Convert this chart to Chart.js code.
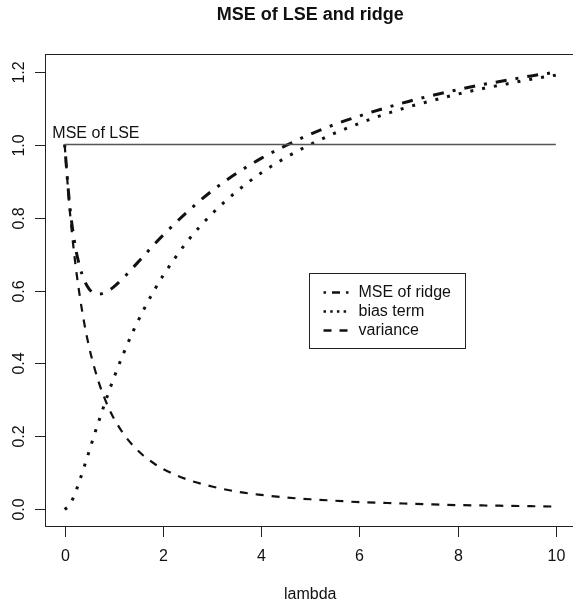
<!DOCTYPE html>
<html lang="en">
<head>
<meta charset="UTF-8">
<title>MSE of LSE and ridge</title>
<script src="https://cdn.jsdelivr.net/npm/chart.js"></script>
<style>
    body { margin: 0; background: #fff; }
    canvas { display: block; }
</style>
</head>
<body>
<canvas id="grafico" width="573" height="603"></canvas>
<script>
    // valores
    const lambdas  = [0, 0.1, 0.2, 0.3, 0.4, 0.5, 0.6, 0.7, 0.8, 0.9, 1.0, 1.2, 1.4, 1.6, 1.8, 2.0, 2.5, 3.0, 3.5, 4.0, 4.5, 5.0, 5.5, 6.0, 6.5, 7.0, 7.5, 8.0, 8.5, 9.0, 9.5, 10];
    const mseRidge = [1.000, 0.838, 0.734, 0.669, 0.628, 0.604, 0.593, 0.590, 0.593, 0.600, 0.610, 0.635, 0.664, 0.693, 0.723, 0.751, 0.816, 0.873, 0.921, 0.962, 0.997, 1.028, 1.055, 1.078, 1.099, 1.118, 1.135, 1.150, 1.164, 1.176, 1.188, 1.198];
    const biasTerm = [0.000, 0.012, 0.040, 0.077, 0.118, 0.160, 0.203, 0.244, 0.284, 0.323, 0.360, 0.428, 0.490, 0.545, 0.595, 0.640, 0.735, 0.810, 0.871, 0.922, 0.964, 1.000, 1.031, 1.058, 1.082, 1.103, 1.121, 1.138, 1.153, 1.166, 1.179, 1.190];
    const variance = [1.000, 0.826, 0.694, 0.592, 0.510, 0.444, 0.391, 0.346, 0.309, 0.277, 0.250, 0.207, 0.174, 0.148, 0.128, 0.111, 0.082, 0.063, 0.049, 0.040, 0.033, 0.028, 0.024, 0.020, 0.018, 0.016, 0.014, 0.012, 0.011, 0.010, 0.009, 0.008];
    const mseLse = 1.0;
    const lseRange = [0, 10];

    const xTicks = [0, 2, 4, 6, 8, 10];
    const yTicks = [0, 0.2, 0.4, 0.6, 0.8, 1.0, 1.2];
    const yTickLabels = ['0.0', '0.2', '0.4', '0.6', '0.8', '1.0', '1.2'];

    const titulo = 'MSE of LSE and ridge';
    const xTitulo = 'lambda';
    const rotuloLse = 'MSE of LSE';
    const legendas = ['MSE of ridge', 'bias term', 'variance'];

    const fonte = "'Liberation Sans', Arial, Helvetica, sans-serif";
    const corTexto = '#111';

    function pontos(ys) {
        return lambdas.map((l, i) => ({ x: l, y: ys[i] }));
    }

    // estilos das linhas (curva e amostra da legenda)
    const estilos = [
        { width: 3, dash: [3, 9, 11, 9], legDash: [2.5, 6, 8, 6] },
        { width: 3, dash: [3, 9], legDash: [2.5, 4.2] },
        { width: 2.2, dash: [8, 8], legDash: [8, 8] }
    ];

    // desenha caixa, eixos, textos e legenda no estilo do R
    const estiloR = {
        id: 'estiloR',
        afterDraw(chart) {
            const { ctx, chartArea: a, scales: { x, y } } = chart;
            ctx.save();
            ctx.strokeStyle = '#222';
            ctx.lineWidth = 1;
            ctx.strokeRect(a.left + 0.5, a.top + 0.5, a.right - a.left + 10, a.bottom - a.top - 1);

            ctx.fillStyle = corTexto;
            ctx.font = '16px ' + fonte;

            // eixo x
            ctx.textAlign = 'center';
            ctx.textBaseline = 'alphabetic';
            xTicks.forEach(v => {
                const px = Math.round(x.getPixelForValue(v)) + 0.5;
                ctx.beginPath();
                ctx.moveTo(px, a.bottom);
                ctx.lineTo(px, a.bottom + 10);
                ctx.stroke();
                ctx.fillText(String(v), px, a.bottom + 34);
            });

            // eixo y
            yTicks.forEach((v, i) => {
                const py = Math.round(y.getPixelForValue(v)) + 0.5;
                ctx.beginPath();
                ctx.moveTo(a.left - 10, py);
                ctx.lineTo(a.left, py);
                ctx.stroke();
                ctx.save();
                ctx.translate(a.left - 21, py);
                ctx.rotate(-Math.PI / 2);
                ctx.fillText(yTickLabels[i], 0, 0);
                ctx.restore();
            });

            // titulos
            const centro = x.getPixelForValue(5);
            ctx.fillText(xTitulo, centro, 599);
            ctx.font = 'bold 18px ' + fonte;
            ctx.fillText(titulo, centro, 20);

            // rotulo da linha do LSE
            ctx.font = '16px ' + fonte;
            ctx.textAlign = 'left';
            ctx.fillText(rotuloLse, x.getPixelForValue(-0.25), y.getPixelForValue(mseLse) - 7);

            // legenda
            const lx = 309.5, ly = 273.5, lw = 156, lh = 75;
            ctx.fillStyle = '#fff';
            ctx.fillRect(lx, ly, lw, lh);
            ctx.strokeStyle = '#222';
            ctx.strokeRect(lx, ly, lw, lh);
            ctx.fillStyle = corTexto;
            ctx.textBaseline = 'middle';
            legendas.forEach((txt, i) => {
                const yy = ly + 19 + i * 19;
                ctx.beginPath();
                ctx.setLineDash(estilos[i].legDash);
                ctx.lineWidth = 2.5;
                ctx.strokeStyle = '#111';
                ctx.moveTo(lx + 14, yy);
                ctx.lineTo(lx + 39, yy);
                ctx.stroke();
                ctx.setLineDash([]);
                ctx.fillText(txt, lx + 49, yy);
            });
            ctx.restore();
        }
    };

    const ctx = document.getElementById('grafico').getContext('2d');

    const grafico = new Chart(ctx, {
        type: 'line',
        data: {
            datasets: [
                {
                    label: rotuloLse,
                    data: lseRange.map(l => ({ x: l, y: mseLse })),
                    borderColor: '#555',
                    borderWidth: 1.3,
                    pointRadius: 0
                },
                {
                    label: legendas[0],
                    data: pontos(mseRidge),
                    borderColor: '#111',
                    borderWidth: estilos[0].width,
                    borderDash: estilos[0].dash,
                    borderCapStyle: 'butt',
                    cubicInterpolationMode: 'monotone',
                    pointRadius: 0
                },
                {
                    label: legendas[1],
                    data: pontos(biasTerm),
                    borderColor: '#111',
                    borderWidth: estilos[1].width,
                    borderDash: estilos[1].dash,
                    borderCapStyle: 'butt',
                    cubicInterpolationMode: 'monotone',
                    pointRadius: 0
                },
                {
                    label: legendas[2],
                    data: pontos(variance),
                    borderColor: '#111',
                    borderWidth: estilos[2].width,
                    borderDash: estilos[2].dash,
                    borderCapStyle: 'butt',
                    cubicInterpolationMode: 'monotone',
                    pointRadius: 0
                }
            ]
        },
        options: {
            responsive: false,
            animation: false,
            devicePixelRatio: 1,
            layout: {
                padding: { left: 45, top: 54, right: 0, bottom: 76 }
            },
            scales: {
                x: { type: 'linear', min: -0.4, max: 10.35, display: false },
                y: { type: 'linear', min: -0.048, max: 1.248, display: false }
            },
            plugins: {
                legend: { display: false },
                tooltip: { enabled: false }
            }
        },
        plugins: [estiloR]
    });
</script>
</body>
</html>
